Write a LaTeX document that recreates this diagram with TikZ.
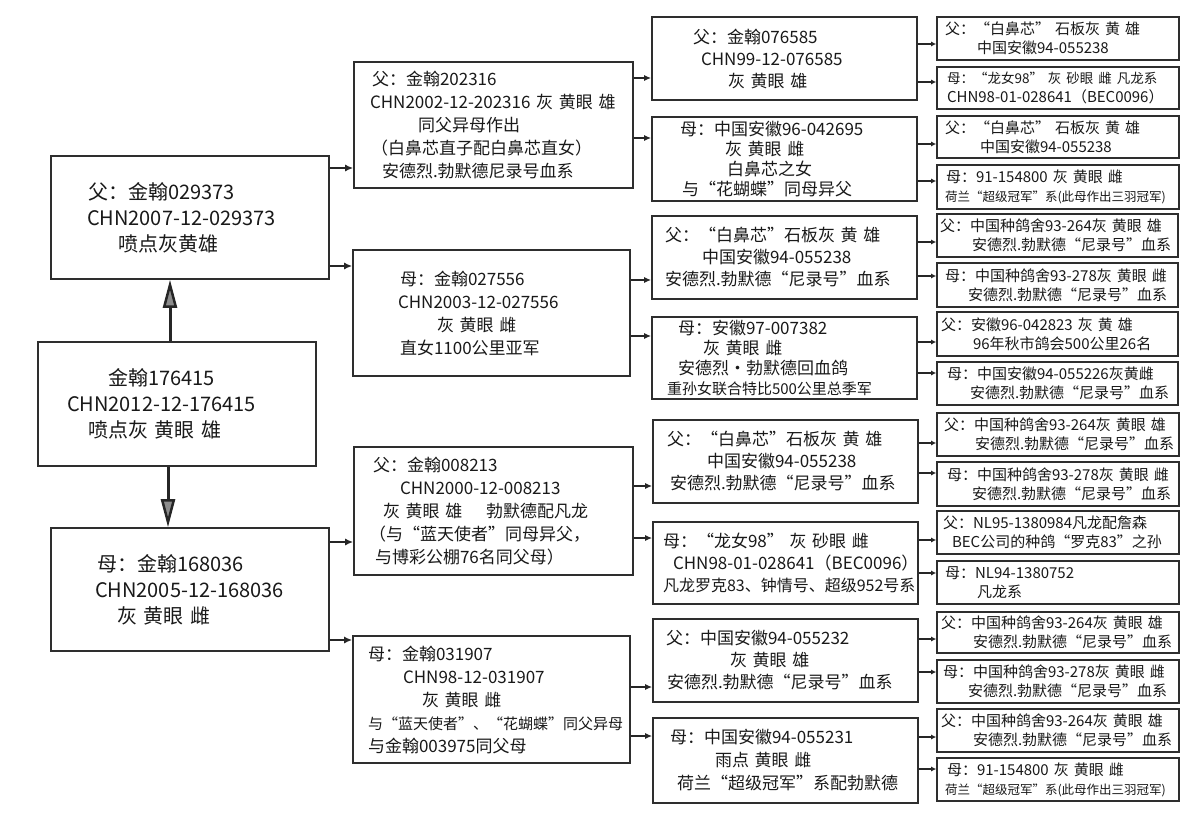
\documentclass[tikz,border=0pt]{standalone}
\usepackage{fontspec}
\setmainfont{Noto Sans CJK SC}[WordSpace=2]
\usetikzlibrary{arrows.meta}
\setlength{\parindent}{0pt}
\newcommand\Lx[2]{\hspace*{#1pt}\mbox{#2}}
\newcommand\fz[1]{\fontsize{#1}{#1}\selectfont}
\newcommand\bx[7]{%
 \pgfmathsetmacro\bw{#4-#2}\pgfmathsetmacro\bh{#5-#3}%
 \pgfmathsetmacro\bcx{(#2+#4)/2}\pgfmathsetmacro\bcy{(#3+#5)/2}%
 \node[box,#6,text width=\bw pt,minimum height=\bh pt] (#1) at (\bcx,\bcy) {#7};}
\begin{document}
\begin{tikzpicture}[x=1pt,y=-1pt,
 box/.style={draw=black!82,line width=1.6pt,inner sep=0pt,align=left,text=black!90},
 fa/.style={font=\fontsize{20}{26}\selectfont},
 fb/.style={font=\fontsize{17}{23}\selectfont},
 fc/.style={font=\fontsize{17}{22}\selectfont},
 fcc/.style={font=\fontsize{17}{20}\selectfont},
 fd/.style={font=\fontsize{15}{19}\selectfont},
 a1/.style={draw=black!85,line width=2pt,-{Latex[length=8pt,width=7pt]}},
 a2/.style={draw=black!85,line width=1.8pt,-{Latex[length=7pt,width=6pt]}},
 a3/.style={draw=black!85,line width=1.2pt,-{Latex[length=5pt,width=5pt]}},
 big/.style={draw=black!85,line width=3pt,-{Triangle[length=28pt,width=14pt,line width=2.5pt,fill=black!45]}}]
\fill[white] (0,0) rectangle (1198,826);
\useasboundingbox (0,0) rectangle (1198,826);
% level 1
\bx{F}{51}{156}{329}{279}{fa}{\Lx{37}{父：金翰029373}\\\Lx{36}{CHN2007-12-029373}\\\Lx{67}{喷点灰黄雄}}
\bx{S}{38}{342}{316}{466}{fa}{\Lx{70}{金翰176415}\\\Lx{29}{CHN2012-12-176415}\\\Lx{50}{喷点灰 黄眼 雄}}
\bx{M}{51}{528}{329}{651}{fa}{\Lx{46}{母：金翰168036}\\\Lx{44}{CHN2005-12-168036}\\\Lx{66}{灰 黄眼 雌}}
% level 2
\bx{A}{354}{62}{633}{188}{fb}{\Lx{18}{父：金翰202316}\\\Lx{16}{CHN2002-12-202316 灰 黄眼 雄}\\\Lx{64}{同父异母作出}\\\Lx{17}{（白鼻芯直子配白鼻芯直女）}\\\Lx{28}{安德烈.勃默德尼录号血系}}
\bx{B}{353}{250}{630}{376}{fb}{\Lx{47}{母：金翰027556}\\\Lx{45}{CHN2003-12-027556}\\\Lx{84}{灰 黄眼 雌}\\\Lx{47}{直女1100公里亚军}}
\bx{C}{354}{447}{633}{575}{fb}{\Lx{19}{父：金翰008213}\\\Lx{46}{CHN2000-12-008213}\\\Lx{29}{灰 黄眼 雄\hspace{1.4em}勃默德配凡龙}\\\Lx{15}{（与“蓝天使者”同母异父，}\\\Lx{21}{与博彩公棚76名同父母）}}
\bx{D}{353}{636}{630}{763}{fb}{\Lx{15}{母：金翰031907}\\\Lx{50}{CHN98-12-031907}\\\Lx{69}{灰 黄眼 雌}\\\Lx{15}{\fz{15}与“蓝天使者”、“花蝴蝶”同父异母}\\\Lx{15}{与金翰003975同父母}}
% level 3
\bx{Ta}{652}{17}{917}{100}{fc}{\Lx{41}{父：金翰076585}\\\Lx{49}{CHN99-12-076585}\\\Lx{76}{灰 黄眼 雄}}
\bx{Tb}{652}{117}{917}{201}{fcc}{\Lx{28}{母：中国安徽96-042695}\\\Lx{73}{灰 黄眼 雌}\\\Lx{75}{白鼻芯之女}\\\Lx{30}{与“花蝴蝶”同母异父}}
\bx{Tc}{652}{216}{917}{299}{fc}{\Lx{13}{父：“白鼻芯”石板灰 黄 雄}\\\Lx{50}{中国安徽94-055238}\\\Lx{13}{安德烈.勃默德“尼录号”血系}}
\bx{Td}{652}{317}{917}{399}{fcc}{\Lx{26}{母：安徽97-007382}\\\Lx{51}{灰 黄眼 雌}\\\Lx{26}{安德烈•勃默德回血鸽}\\\Lx{15}{\fz{15}重孙女联合特比500公里总季军}}
\bx{Te}{653}{420}{918}{503}{fc}{\Lx{14}{父：“白鼻芯”石板灰 黄 雄}\\\Lx{54}{中国安徽94-055238}\\\Lx{17}{安德烈.勃默德“尼录号”血系}}
\bx{Tf}{653}{522}{918}{604}{fc}{\Lx{10}{母：“龙女98” 灰 砂眼 雌}\\\Lx{20}{CHN98-01-028641（BEC0096）}\\\Lx{10}{\fz{16}凡龙罗克83、钟情号、超级952号系}}
\bx{Tg}{653}{619}{918}{702}{fc}{\Lx{13}{父：中国安徽94-055232}\\\Lx{77}{灰 黄眼 雄}\\\Lx{14}{安德烈.勃默德“尼录号”血系}}
\bx{Th}{653}{718}{918}{803}{fb}{\Lx{17}{母：中国安徽94-055231}\\\Lx{62}{雨点 黄眼 雌}\\\Lx{24}{荷兰“超级冠军”系配勃默德}}
% level 4
\bx{P1}{937}{17}{1179}{60}{fd}{\Lx{8}{父：“白鼻芯” 石板灰 黄 雄}\\\Lx{40}{中国安徽94-055238}}
\bx{P2}{937}{67}{1179}{109}{fd}{\Lx{10}{\fz{13.5}母：“龙女98” 灰 砂眼 雌 凡龙系}\\\Lx{10}{CHN98-01-028641（BEC0096）}}
\bx{P3}{937}{116}{1179}{158}{fd}{\Lx{8}{父：“白鼻芯” 石板灰 黄 雄}\\\Lx{43}{中国安徽94-055238}}
\bx{P4}{937}{165}{1179}{209}{fd}{\Lx{9}{母：91-154800 灰 黄眼 雌}\\\Lx{8}{\fz{12.5}荷兰“超级冠军”系(此母作出三羽冠军)}}
\bx{P5}{937}{214}{1178}{257}{fd}{\Lx{3}{父：中国种鸽舍93-264灰 黄眼 雄}\\\Lx{35}{安德烈.勃默德“尼录号”血系}}
\bx{P6}{937}{263}{1178}{307}{fd}{\Lx{8}{母：中国种鸽舍93-278灰 黄眼 雌}\\\Lx{31}{安德烈.勃默德“尼录号”血系}}
\bx{P7}{937}{312}{1178}{356}{fd}{\Lx{4}{父：安徽96-042823 灰 黄 雄}\\\Lx{36}{96年秋市鸽会500公里26名}}
\bx{P8}{937}{362}{1178}{405}{fd}{\Lx{10}{母：中国安徽94-055226灰黄雌}\\\Lx{33}{安德烈.勃默德“尼录号”血系}}
\bx{P9}{937}{413}{1179}{456}{fd}{\Lx{7}{父：中国种鸽舍93-264灰 黄眼 雄}\\\Lx{38}{安德烈.勃默德“尼录号”血系}}
\bx{P10}{937}{462}{1179}{506}{fd}{\Lx{10}{母：中国种鸽舍93-278灰 黄眼 雌}\\\Lx{35}{安德烈.勃默德“尼录号”血系}}
\bx{P11}{937}{511}{1179}{554}{fd}{\Lx{6}{父：NL95-1380984凡龙配詹森}\\\Lx{15}{BEC公司的种鸽“罗克83”之孙}}
\bx{P12}{937}{561}{1179}{604}{fd}{\Lx{8}{母：NL94-1380752}\\\Lx{40}{凡龙系}}
\bx{P13}{937}{612}{1179}{653}{fd}{\Lx{4}{父：中国种鸽舍93-264灰 黄眼 雄}\\\Lx{36}{安德烈.勃默德“尼录号”血系}}
\bx{P14}{937}{660}{1179}{703}{fd}{\Lx{6}{母：中国种鸽舍93-278灰 黄眼 雌}\\\Lx{31}{安德烈.勃默德“尼录号”血系}}
\bx{P15}{937}{709}{1179}{752}{fd}{\Lx{4}{父：中国种鸽舍93-264灰 黄眼 雄}\\\Lx{36}{安德烈.勃默德“尼录号”血系}}
\bx{P16}{937}{758}{1179}{801}{fd}{\Lx{10}{母：91-154800 灰 黄眼 雌}\\\Lx{8}{\fz{12.5}荷兰“超级冠军”系(此母作出三羽冠军)}}
% vertical arrows
\draw[big] (S.north -| 170,0) -- (F.south -| 170,0);
\draw[big] (S.south -| 168,0) -- (M.north -| 168,0);
% level 1 -> 2
\draw[a1] (F.east |- 0,168) -- (A.west |- 0,168);
\draw[a1] (F.east |- 0,266) -- (B.west |- 0,266);
\draw[a1] (M.east |- 0,542) -- (C.west |- 0,542);
\draw[a1] (M.east |- 0,640) -- (D.west |- 0,640);
% level 2 -> 3
\draw[a2] (A.east |- 0,78) -- (Ta.west |- 0,78);
\draw[a2] (A.east |- 0,138) -- (Tb.west |- 0,138);
\draw[a2] (B.east |- 0,280) -- (Tc.west |- 0,280);
\draw[a2] (B.east |- 0,336) -- (Td.west |- 0,336);
\draw[a2] (C.east |- 0,486) -- (Te.west |- 0,486);
\draw[a2] (C.east |- 0,538) -- (Tf.west |- 0,538);
\draw[a2] (D.east |- 0,687) -- (Tg.west |- 0,687);
\draw[a2] (D.east |- 0,736) -- (Th.west |- 0,736);
% level 3 -> 4
\draw[a3] (Ta.east |- 0,44) -- (P1.west |- 0,44);
\draw[a3] (Ta.east |- 0,82) -- (P2.west |- 0,82);
\draw[a3] (Tb.east |- 0,144) -- (P3.west |- 0,144);
\draw[a3] (Tb.east |- 0,181) -- (P4.west |- 0,181);
\draw[a3] (Tc.east |- 0,242) -- (P5.west |- 0,242);
\draw[a3] (Tc.east |- 0,276) -- (P6.west |- 0,276);
\draw[a3] (Td.east |- 0,342) -- (P7.west |- 0,342);
\draw[a3] (Td.east |- 0,373) -- (P8.west |- 0,373);
\draw[a3] (Te.east |- 0,443) -- (P9.west |- 0,443);
\draw[a3] (Te.east |- 0,473) -- (P10.west |- 0,473);
\draw[a3] (Tf.east |- 0,540) -- (P11.west |- 0,540);
\draw[a3] (Tf.east |- 0,573) -- (P12.west |- 0,573);
\draw[a3] (Tg.east |- 0,639) -- (P13.west |- 0,639);
\draw[a3] (Tg.east |- 0,672) -- (P14.west |- 0,672);
\draw[a3] (Th.east |- 0,737) -- (P15.west |- 0,737);
\draw[a3] (Th.east |- 0,769) -- (P16.west |- 0,769);
\end{tikzpicture}
\end{document}
